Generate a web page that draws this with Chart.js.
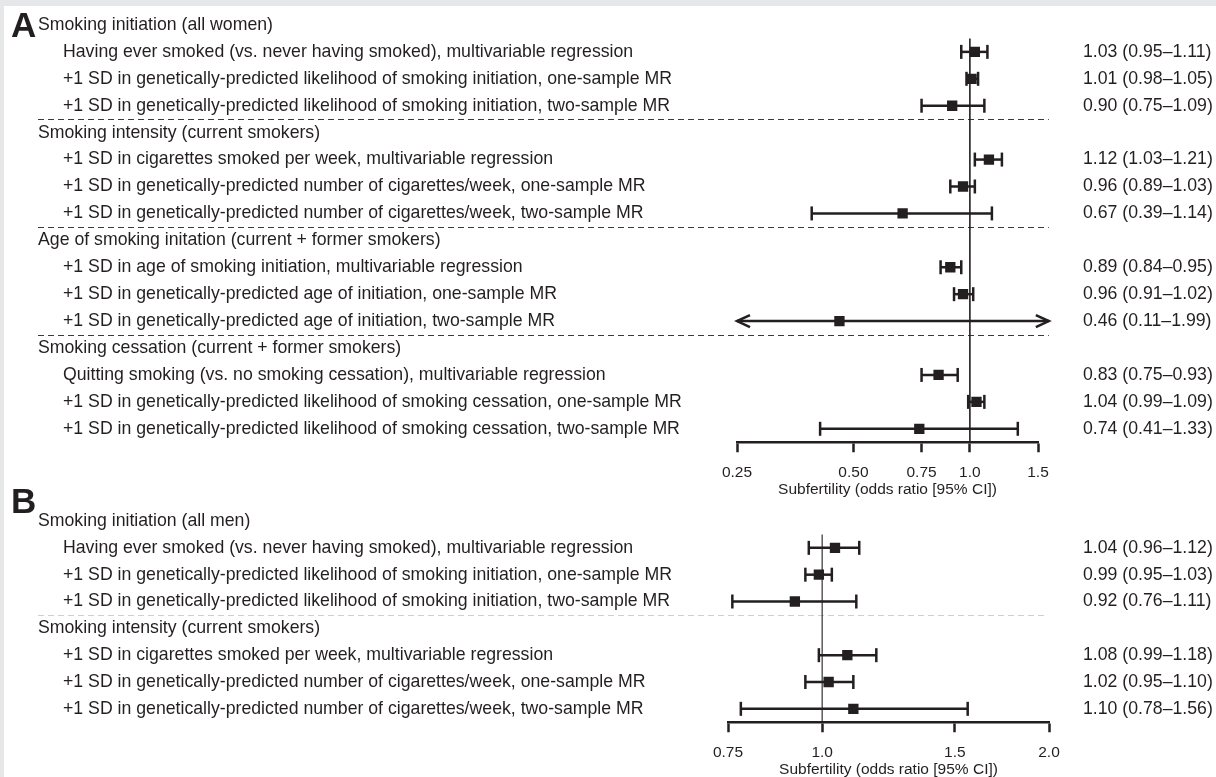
<!DOCTYPE html>
<html>
<head>
<meta charset="utf-8">
<script src="https://cdn.jsdelivr.net/npm/chart.js@4"></script>
<style>
  html, body { margin: 0; padding: 0; background: #e6e7e9; overflow: hidden; }
  #page { position: relative; width: 1216px; height: 777px; overflow: hidden; }
  #sheet { position: absolute; left: 4px; top: 6px; right: 0; bottom: 0; background: #fff; }
  .panel { position: absolute; left: 0; width: 1216px; }
  #panelA { top: 0; height: 499px; }
  #panelB { top: 480px; height: 297px; }
</style>
</head>
<body>
<div id="page">
  <div id="sheet"></div>
  <div class="panel" id="panelA"><canvas id="chartA"></canvas></div>
  <div class="panel" id="panelB"><canvas id="chartB"></canvas></div>
</div>
<script>
// Panel A - women (null = group heading)
const labelsA = [
  'Smoking initiation (all women)',
  'Having ever smoked (vs. never having smoked), multivariable regression',
  '+1 SD in genetically-predicted likelihood of smoking initiation, one-sample MR',
  '+1 SD in genetically-predicted likelihood of smoking initiation, two-sample MR',
  'Smoking intensity (current smokers)',
  '+1 SD in cigarettes smoked per week, multivariable regression',
  '+1 SD in genetically-predicted number of cigarettes/week, one-sample MR',
  '+1 SD in genetically-predicted number of cigarettes/week, two-sample MR',
  'Age of smoking initation (current + former smokers)',
  '+1 SD in age of smoking initiation, multivariable regression',
  '+1 SD in genetically-predicted age of initiation, one-sample MR',
  '+1 SD in genetically-predicted age of initiation, two-sample MR',
  'Smoking cessation (current + former smokers)',
  'Quitting smoking (vs. no smoking cessation), multivariable regression',
  '+1 SD in genetically-predicted likelihood of smoking cessation, one-sample MR',
  '+1 SD in genetically-predicted likelihood of smoking cessation, two-sample MR'
];
const orA = [null, 1.03, 1.01, 0.90, null, 1.12, 0.96, 0.67, null, 0.89, 0.96, 0.46, null, 0.83, 1.04, 0.74];
const loA = [null, 0.95, 0.98, 0.75, null, 1.03, 0.89, 0.39, null, 0.84, 0.91, 0.11, null, 0.75, 0.99, 0.41];
const hiA = [null, 1.11, 1.05, 1.09, null, 1.21, 1.03, 1.14, null, 0.95, 1.02, 1.99, null, 0.93, 1.09, 1.33];
const ticksA = [0.25, 0.5, 0.75, 1.0, 1.5];
const tickLabelsA = ['0.25', '0.50', '0.75', '1.0', '1.5'];

// Panel B - men
const labelsB = [
  'Smoking initiation (all men)',
  'Having ever smoked (vs. never having smoked), multivariable regression',
  '+1 SD in genetically-predicted likelihood of smoking initiation, one-sample MR',
  '+1 SD in genetically-predicted likelihood of smoking initiation, two-sample MR',
  'Smoking intensity (current smokers)',
  '+1 SD in cigarettes smoked per week, multivariable regression',
  '+1 SD in genetically-predicted number of cigarettes/week, one-sample MR',
  '+1 SD in genetically-predicted number of cigarettes/week, two-sample MR'
];
const orB = [null, 1.04, 0.99, 0.92, null, 1.08, 1.02, 1.10];
const loB = [null, 0.96, 0.95, 0.76, null, 0.99, 0.95, 0.78];
const hiB = [null, 1.12, 1.03, 1.11, null, 1.18, 1.10, 1.56];
const ticksB = [0.75, 1.0, 1.5, 2.0];
const tickLabelsB = ['0.75', '1.0', '1.5', '2.0'];

const axisTitle = 'Subfertility (odds ratio [95% CI])';

const INK = '#231f20';
const FONT = '"Liberation Sans", Arial, Helvetica, sans-serif';

function fmt(v) { return v.toFixed(2); }

function forestPlugin(p) {
  return {
    id: 'forest' + p.letter,
    beforeDatasetsDraw(chart) {
      const { ctx, chartArea } = chart;
      const x = chart.scales.x, y = chart.scales.y;
      ctx.save();

      // dashed separators between groups
      ctx.strokeStyle = p.dashColor;
      ctx.lineWidth = 1;
      ctx.setLineDash([6, 4]);
      p.or.forEach((v, i) => {
        if (v !== null || i === 0) return;
        const yy = Math.round(y.getPixelForValue(i - 0.5)) + 0.5;
        ctx.beginPath();
        ctx.moveTo(38, yy);
        ctx.lineTo(x.getPixelForValue(p.dashEnd), yy);
        ctx.stroke();
      });
      ctx.setLineDash([]);

      // no-effect line at OR = 1
      const x1 = x.getPixelForValue(1);
      ctx.strokeStyle = INK;
      ctx.lineWidth = p.refWidth;
      ctx.beginPath();
      ctx.moveTo(x1, y.getPixelForValue(0.5));
      ctx.lineTo(x1, chartArea.bottom);
      ctx.stroke();

      // confidence intervals, arrows where they run off the axis
      ctx.lineWidth = 2.5;
      p.or.forEach((v, i) => {
        if (v === null) return;
        const yy = y.getPixelForValue(i);
        const xl = x.getPixelForValue(Math.max(p.lo[i], p.clipLo));
        const xh = x.getPixelForValue(Math.min(p.hi[i], p.clipHi));
        ctx.beginPath();
        ctx.moveTo(xl, yy);
        ctx.lineTo(xh, yy);
        ctx.stroke();
        [[xl, p.lo[i] < p.clipLo, 1], [xh, p.hi[i] > p.clipHi, -1]].forEach(([xx, arrow, dir]) => {
          ctx.beginPath();
          if (arrow) {
            ctx.moveTo(xx + dir * 13, yy - 6);
            ctx.lineTo(xx, yy);
            ctx.lineTo(xx + dir * 13, yy + 6);
          } else {
            ctx.moveTo(xx, yy - 7);
            ctx.lineTo(xx, yy + 7);
          }
          ctx.stroke();
        });
      });
      ctx.restore();
    },
    afterDraw(chart) {
      const { ctx } = chart;
      const y = chart.scales.y;
      ctx.save();
      ctx.fillStyle = INK;
      ctx.textAlign = 'left';
      ctx.font = `bold 35px ${FONT}`;
      ctx.textBaseline = 'alphabetic';
      ctx.fillText(p.letter, 11, p.letterY);

      ctx.font = `17.7px ${FONT}`;
      ctx.textBaseline = 'middle';
      p.labels.forEach((lab, i) => {
        const yy = y.getPixelForValue(i);
        const head = p.or[i] === null;
        ctx.fillText(lab, head ? 38 : 63, yy);
        if (!head) ctx.fillText(`${fmt(p.or[i])} (${fmt(p.lo[i])}–${fmt(p.hi[i])})`, 1083, yy);
      });
      ctx.restore();
    }
  };
}

function makeChart(id, p) {
  const pts = p.or.map((v, i) => v === null ? null : { x: v, y: i }).filter(Boolean);
  return new Chart(document.getElementById(id), {
    type: 'scatter',
    data: {
      datasets: [{
        data: pts,
        pointStyle: 'rect',
        pointRadius: 7.3,
        pointHoverRadius: 7.3,
        backgroundColor: INK,
        borderWidth: 0
      }]
    },
    options: {
      responsive: true,
      maintainAspectRatio: false,
      animation: false,
      events: [],
      layout: { padding: { left: p.left, right: 1216 - p.right, top: p.top, bottom: 0 } },
      plugins: { legend: { display: false }, tooltip: { enabled: false } },
      scales: {
        x: {
          type: 'logarithmic',
          min: p.ticks[0],
          max: p.ticks[p.ticks.length - 1],
          afterBuildTicks: s => { s.ticks = p.ticks.map(v => ({ value: v })); },
          grid: { drawOnChartArea: false, drawTicks: true, tickLength: 10, tickWidth: 2.5, tickColor: INK },
          border: { display: true, width: 2.5, color: INK },
          ticks: {
            color: INK, autoSkip: false, maxRotation: 0, padding: 12.5,
            font: { family: FONT, size: 15.5, lineHeight: 1 },
            callback: (v, i) => p.tickLabels[i]
          },
          title: {
            display: true, text: axisTitle, color: INK,
            font: { family: FONT, size: 15.5, lineHeight: 1 },
            padding: { top: -11.25, bottom: p.titlePadBottom }
          }
        },
        y: { type: 'linear', display: false, reverse: true, min: -0.5, max: p.labels.length - 0.5 }
      }
    },
    plugins: [forestPlugin(p)]
  });
}

makeChart('chartA', {
  letter: 'A', letterY: 37, labels: labelsA, or: orA, lo: loA, hi: hiA,
  ticks: ticksA, tickLabels: tickLabelsA, clipLo: 0.25, clipHi: 1.6, dashEnd: 1.6,
  dashColor: '#3a3a3a', refWidth: 1.6, left: 737, right: 1038, top: 11.5, titlePadBottom: 2
});
makeChart('chartB', {
  letter: 'B', letterY: 33, labels: labelsB, or: orB, lo: loB, hi: hiB,
  ticks: ticksB, tickLabels: tickLabelsB, clipLo: 0.75, clipHi: 2.0, dashEnd: 1.97,
  dashColor: '#cfcfcf', refWidth: 1.1, left: 728, right: 1049, top: 27.6, titlePadBottom: 0
});
</script>
</body>
</html>
